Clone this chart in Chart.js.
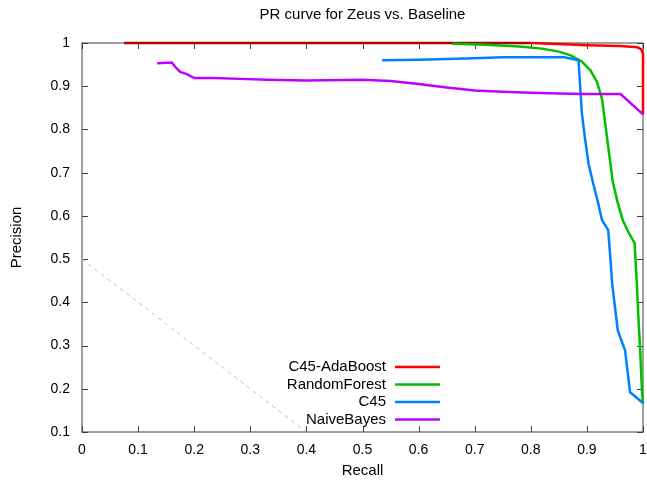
<!DOCTYPE html>
<html>
<head>
<meta charset="utf-8">
<script src="https://cdn.jsdelivr.net/npm/chart.js@4"></script>
<style>
  html, body { margin: 0; padding: 0; background: #fff; }
  #prChart { display: block; }
</style>
</head>
<body>
<canvas id="prChart" width="647" height="486"></canvas>
<script>
// PR curves
const adaRecall = [0.075, 0.80, 0.86, 0.90, 0.96, 0.99, 0.997, 1.0, 1.0];
const adaPrecision = [1.0, 1.0, 0.997, 0.995, 0.993, 0.99, 0.985, 0.975, 0.835];

const rfRecall = [0.66, 0.72, 0.78, 0.82, 0.85, 0.87, 0.89, 0.906, 0.918, 0.927, 0.934, 0.94, 0.946, 0.955, 0.964, 0.975, 0.985, 0.989, 0.992, 0.995, 0.998, 1.0];
const rfPrecision = [0.998, 0.996, 0.992, 0.987, 0.98, 0.972, 0.958, 0.9375, 0.91, 0.87, 0.80, 0.74, 0.68, 0.63, 0.59, 0.56, 0.537, 0.444, 0.36, 0.289, 0.2, 0.165];

const c45Recall = [0.535, 0.6, 0.65, 0.7, 0.75, 0.8, 0.86, 0.885, 0.888, 0.891, 0.897, 0.903, 0.911, 0.92, 0.927, 0.938, 0.942, 0.945, 0.955, 0.968, 0.977, 1.0];
const c45Precision = [0.96, 0.961, 0.963, 0.965, 0.967, 0.967, 0.967, 0.96, 0.9, 0.838, 0.775, 0.72, 0.676, 0.63, 0.59, 0.567, 0.5, 0.444, 0.335, 0.289, 0.192, 0.167];

const nbRecall = [0.134, 0.16, 0.166, 0.175, 0.187, 0.2, 0.234, 0.282, 0.33, 0.4, 0.5, 0.55, 0.6, 0.65, 0.7, 0.75, 0.8, 0.85, 0.9, 0.96, 1.0];
const nbPrecision = [0.953, 0.955, 0.945, 0.933, 0.928, 0.919, 0.919, 0.917, 0.915, 0.913, 0.915, 0.912, 0.905, 0.897, 0.89, 0.887, 0.885, 0.883, 0.882, 0.882, 0.835];

// random-guess reference line
const baseRecall = [0, 0.4];
const basePrecision = [0.5, 0.1];

const seriesNames = ["C45-AdaBoost", "RandomForest", "C45", "NaiveBayes"];
const seriesColors = ["#ff0000", "#00c000", "#0080ff", "#c000ff"];

const xTicks = [0, 0.1, 0.2, 0.3, 0.4, 0.5, 0.6, 0.7, 0.8, 0.9, 1];
const yTicks = [0.1, 0.2, 0.3, 0.4, 0.5, 0.6, 0.7, 0.8, 0.9, 1];

const FONT = "'Liberation Sans', Arial, sans-serif";

function toPoints(xs, ys) {
  return xs.map((x, i) => ({ x: x, y: ys[i] }));
}

function curve(idx, xs, ys) {
  return {
    label: seriesNames[idx],
    data: toPoints(xs, ys),
    borderColor: seriesColors[idx],
    borderWidth: 2.5,
    pointRadius: 0,
    fill: false,
    tension: 0,
    clip: 4
  };
}

const adaSet = curve(0, adaRecall, adaPrecision);
// the flat part at precision 1 shows up darker in the original
adaSet.segment = {
  borderColor: ctx => (ctx.p1.parsed.x <= 0.8 ? "#b00000" : seriesColors[0])
};

const datasets = [
  {
    label: "baseline",
    data: toPoints(baseRecall, basePrecision),
    borderColor: "#c0c0c0",
    borderWidth: 1,
    borderDash: [4, 4],
    pointRadius: 0,
    fill: false
  },
  curve(3, nbRecall, nbPrecision),
  curve(2, c45Recall, c45Precision),
  curve(1, rfRecall, rfPrecision),
  adaSet
];

// gnuplot look: grey border with inward ticks on all four sides, then titles and legend
const gnuplotDecor = {
  id: "gnuplotDecor",
  beforeDatasetsDraw(chart) {
    const { ctx, chartArea: a, scales } = chart;
    const xs = scales.x, ys = scales.y;
    ctx.save();
    ctx.strokeStyle = "#808080";
    ctx.lineWidth = 1.5;
    ctx.strokeRect(a.left, a.top, a.right - a.left, a.bottom - a.top);

    ctx.strokeStyle = "#404040";
    ctx.lineWidth = 1;
    ctx.beginPath();
    xTicks.forEach(v => {
      const px = Math.round(xs.getPixelForValue(v)) + 0.5;
      ctx.moveTo(px, a.bottom); ctx.lineTo(px, a.bottom - 6);
      ctx.moveTo(px, a.top); ctx.lineTo(px, a.top + 6);
    });
    yTicks.forEach(v => {
      const py = Math.round(ys.getPixelForValue(v)) + 0.5;
      ctx.moveTo(a.left, py); ctx.lineTo(a.left + 6, py);
      ctx.moveTo(a.right, py); ctx.lineTo(a.right - 6, py);
    });
    ctx.stroke();
    ctx.restore();
  },
  afterDraw(chart) {
    const { ctx, chartArea: a } = chart;
    ctx.save();
    ctx.fillStyle = "#000";
    ctx.font = "15px " + FONT;
    ctx.textAlign = "center";
    ctx.textBaseline = "middle";
    ctx.fillText("PR curve for Zeus vs. Baseline", (a.left + a.right) / 2, 15);
    ctx.fillText("Recall", (a.left + a.right) / 2, 471);
    ctx.save();
    ctx.translate(17, (a.top + a.bottom) / 2);
    ctx.rotate(-Math.PI / 2);
    ctx.fillText("Precision", 0, 0);
    ctx.restore();

    // legend
    ctx.textAlign = "right";
    ctx.lineWidth = 2.5;
    seriesNames.forEach((name, i) => {
      const y = 367 + i * 17.5;
      ctx.fillStyle = "#000";
      ctx.fillText(name, 386, y);
      ctx.strokeStyle = seriesColors[i];
      ctx.beginPath();
      ctx.moveTo(395, y);
      ctx.lineTo(440, y);
      ctx.stroke();
    });
    ctx.restore();
  }
};

new Chart(document.getElementById("prChart"), {
  type: "line",
  data: { datasets: datasets },
  options: {
    responsive: false,
    animation: false,
    layout: { padding: { left: 0, right: 4, top: 43, bottom: 0 } },
    plugins: {
      legend: { display: false },
      title: { display: false },
      tooltip: { enabled: false }
    },
    scales: {
      x: {
        type: "linear",
        min: 0,
        max: 1,
        grid: { display: false, drawTicks: false },
        border: { display: false },
        afterBuildTicks: s => { s.ticks = xTicks.map(v => ({ value: v })); },
        afterFit: s => { s.height = 54; s.paddingLeft = 0; s.paddingRight = 0; },
        ticks: {
          color: "#000",
          padding: 10,
          maxRotation: 0,
          font: { size: 14, family: FONT },
          callback: v => String(v)
        }
      },
      y: {
        type: "linear",
        min: 0.1,
        max: 1,
        grid: { display: false, drawTicks: false },
        border: { display: false },
        afterBuildTicks: s => { s.ticks = yTicks.map(v => ({ value: v })); },
        afterFit: s => { s.width = 82; s.paddingTop = 0; s.paddingBottom = 0; },
        ticks: {
          color: "#000",
          padding: 12,
          font: { size: 14, family: FONT },
          callback: v => String(v)
        }
      }
    }
  },
  plugins: [gnuplotDecor]
});
</script>
</body>
</html>
